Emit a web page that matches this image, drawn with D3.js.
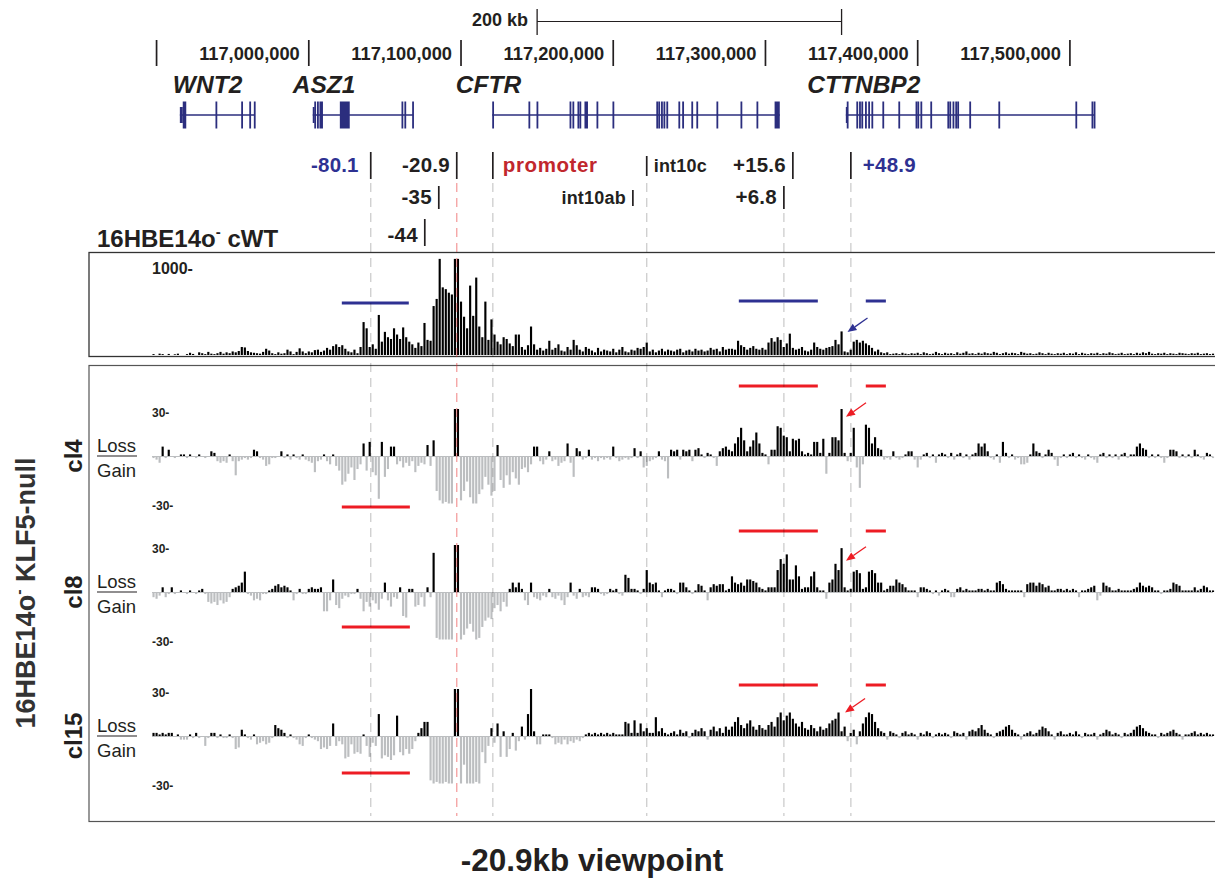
<!DOCTYPE html>
<html><head><meta charset="utf-8">
<script src="https://cdn.jsdelivr.net/npm/d3@7"></script>
<style>
body{margin:0;background:#fff}
svg text{font-family:"Liberation Sans",Arial,Helvetica,sans-serif}
</style></head>
<body><svg id="c" width="1215" height="882"></svg>
<script>
// ---------------- DATA ----------------
const binStartKb = 116897;   // first bin start (kb, chr7)
const binSizeKb = 2;         // bin size (kb)

// 16HBE14o- cWT 4C signal (reads per bin)
const cWT = [
10,0,15,10,0,12,0,8,15,0, 0,10,25,12,0,30,20,10,35,15,
10,20,35,15,30,20,40,30,45,90, 85,45,30,25,20,15,35,70,50,20,
10,30,15,20,60,40,10,35,75,40, 20,40,30,55,60,35,50,80,60,100,
120,90,110,70,40,30,60,20,90,370, 300,90,120,70,450,150,260,200,180,300,
230,180,310,200,150,120,80,140,100,360, 170,160,550,630,1080,760,740,700,680,1080,
1080,600,430,300,780,440,870,320,200,600, 170,400,230,150,120,200,180,130,100,230,
230,90,60,110,320,120,60,80,50,70, 160,60,80,120,50,40,90,60,170,110,
60,40,90,70,50,30,80,40,60,50, 40,70,30,60,90,40,30,60,50,80,
70,90,140,40,60,30,50,70,40,60, 50,40,60,70,30,50,60,40,70,50,
60,40,50,80,60,70,40,90,60,70, 70,60,160,110,90,60,80,100,70,60,
80,60,140,190,150,200,170,90,130,240, 80,60,70,90,50,40,60,140,90,70,
60,80,90,100,170,120,265,40,30,60, 150,170,140,160,130,110,80,40,60,30,
20,30,10,15,20,10,25,15,10,20, 15,25,10,30,20,10,15,35,20,10,
25,15,20,10,30,15,25,40,15,20, 10,25,15,30,20,15,35,25,10,20,
30,15,25,20,10,35,25,15,20,10, 15,30,20,10,25,15,10,20,15,25,
10,20,15,30,10,25,15,10,20,15, 25,10,20,15,30,20,10,15,25,10,
15,20,10,25,15,30,20,35,15,10, 20,15,25,10,20,15,10,25,20,15,
10,20,15,25,10,15,20,10,15
];

// KLF5-null clones: difference vs cWT (positive = Loss, negative = Gain)
const cl4 = [
-1,-2,-4,6,-1,4,0,-1,0,1, 1,-1,1,0,-1,1,0,-1,0,3,
2,-3,-4,-3,-4,1,-3,-12,-3,-2, -1,-2,-1,4,3,-1,-2,-6,-5,-1,
-1,0,3,-1,1,-2,1,-1,-2,1, -2,-3,-4,-10,-3,-2,1,-3,-5,1,
-6,-9,-18,-16,-11,-7,-15,-8,-5,8, -9,9,-10,-12,-27,9,-13,-8,6,6,
-5,-3,-7,-4,-6,-3,-10,-6,-4,-5, 7,-6,10,-22,-28,-30,-29,-30,-30,30,
30,-28,-22,-16,-26,-30,-30,-24,-21,-13, -18,-25,-22,7,-15,-20,-12,-18,-10,-14,
-18,-8,-7,-10,-5,6,6,-3,-5,-2, 3,-3,-2,-6,-4,-3,8,-4,-13,5,
3,-2,-1,4,-2,-1,-3,-1,-2,-1, -2,6,-1,-3,-2,-1,-2,-1,5,-1,
3,-7,-6,-3,-2,-1,3,-2,-3,-14, 4,3,4,-2,4,3,4,-3,4,5,
1,-1,2,1,-1,-6,3,5,6,4, 3,8,12,18,10,3,6,10,15,8,
2,1,-5,4,4,19,18,13,12,3, 11,10,11,3,1,2,1,9,9,2,
11,-11,2,12,12,10,30,2,-3,2, 18,-7,-20,-5,20,18,8,12,5,4,
-2,-1,-2,3,-1,-2,-1,1,3,3, -2,-7,-2,1,2,-1,1,-4,1,2,
1,-1,2,-2,1,2,-1,1,-2,1, 2,8,6,8,3,-1,-2,1,-4,9,
2,-1,1,-2,-1,-5,-5,-4,1,8, 3,2,-1,1,4,2,-2,-6,-1,1,
-1,1,2,-1,1,-1,-2,1,-1,-2, -4,1,2,-1,1,-1,1,-2,1,2,
-1,1,1,6,8,5,4,-1,1,-1, 1,-1,-4,-1,4,4,3,-1,1,-1,
1,-1,4,1,-1,-2,2,1,-1
];
const cl8 = [
-3,-4,-2,3,-3,-1,3,-1,0,1, 0,-1,1,0,-1,1,2,-1,-6,-7,
-6,-8,-5,-7,-6,-3,2,3,4,6, 13,-1,-2,-5,-4,-5,-1,-1,1,2,
4,5,3,4,3,1,-5,-1,2,-1, -1,2,3,2,2,3,-12,-12,-5,8,
-8,-10,-4,-2,-3,-1,-1,2,-4,-12, -6,-9,-5,-7,-11,-4,6,-5,-9,-3,
-4,3,-15,-16,2,2,-9,-8,-3,-9, 3,-3,25,-29,-30,-30,-30,-30,-30,30,
30,-30,-27,-23,-20,-25,-30,-29,-22,-18, -16,-17,-10,-8,-12,-6,-9,2,6,3,
6,2,-5,-8,6,-3,-4,-5,-2,-3, 2,-3,-4,-2,-5,-8,-3,6,-2,-4,
2,-3,-2,-3,3,3,2,-1,-2,-1, 2,1,2,-1,-2,11,9,2,2,1,
-1,2,14,6,5,6,1,-3,1,2, 2,1,-1,6,6,3,1,-1,1,5,
4,1,-5,3,5,4,5,5,1,2, 10,6,5,6,4,8,8,7,6,3,
2,1,3,3,3,14,21,18,24,8, 8,17,10,2,3,3,10,13,3,1,
1,-4,6,8,18,14,28,3,1,2, 13,14,12,2,3,13,14,12,6,6,
1,2,4,4,8,6,5,3,1,1, 1,-3,3,3,2,1,-1,1,-2,1,
2,1,-3,-3,2,3,1,2,1,1, 1,2,2,1,2,1,1,6,7,5,
2,1,1,1,1,1,-3,5,6,6, 4,6,5,3,4,1,1,2,2,1,
2,1,2,1,-3,1,1,2,3,4, -5,-2,6,4,3,1,1,2,1,1,
1,1,2,3,6,4,3,4,3,1, 1,-1,1,1,2,6,5,4,1,1,
1,1,3,1,2,4,3,1,1
];
const cl15 = [
2,2,1,2,1,2,2,0,1,-2, -2,-2,1,-1,2,-1,0,-6,-1,2,
2,-1,1,-1,-1,1,-1,-8,-7,4, 1,-1,-2,1,-5,-4,-3,-5,-4,-1,
7,5,4,2,-1,1,-1,-2,-5,-6, -1,1,-1,-2,-3,-8,-7,-8,-6,8,
-6,-3,-5,-14,-13,-5,-11,-10,-11,1, -6,-13,-4,-6,14,-14,-12,-13,-15,-12,
13,-10,-12,-8,-11,-8,-3,2,5,9, 9,-28,-30,-29,-30,-30,-29,-30,-30,30,
30,-30,-18,-30,-30,-30,-29,-30,-10,-17, -6,5,-4,8,-13,3,-13,-8,2,-9,
-3,6,-2,14,30,3,-5,-5,1,1, 1,-1,-5,-4,-5,-2,-5,-3,-4,-2,
-3,-1,1,2,1,2,1,2,1,2, 1,2,1,1,1,9,8,2,10,2,
8,3,5,2,2,12,3,5,2,1, 2,3,1,4,2,3,-1,2,4,3,
5,3,-2,4,6,3,5,2,6,4, 6,9,12,7,5,8,10,6,4,7,
5,4,7,9,6,12,15,10,13,15, 11,8,6,9,5,4,7,5,3,6,
4,5,8,10,11,15,3,6,-3,2, 4,-5,3,8,12,15,14,9,5,3,
2,-2,3,2,1,-1,2,3,1,2, 1,-2,2,1,3,2,-1,1,2,1,
2,1,-1,3,2,1,2,-2,3,4, 3,5,7,4,2,1,-1,2,3,4,
6,7,4,2,1,-2,1,2,3,1, 2,4,6,5,3,1,-2,2,3,1,
1,2,1,3,1,-1,2,1,1,2, -2,1,2,4,3,1,2,1,-1,2,
1,2,4,6,7,5,3,2,1,1, -1,2,1,2,3,4,2,1,-2,1,
1,2,3,1,2,1,2,1,1
];
const cloneNames = ["cl4","cl8","cl15"];

// coordinate ruler
const tickKb = [116900,117000,117100,117200,117300,117400,117500];
const tickLabels = ["","117,000,000","117,100,000","117,200,000","117,300,000","117,400,000","117,500,000"];
const scaleBarKb = [117150,117350];
const scaleBarLabel = "200 kb";

// genes: [start,end,kind] exons, kind 1 = coding, 0 = UTR
const geneNames = ["WNT2","ASZ1","CFTR","CTTNBP2"];
const geneLabelKb = [116910.7,116989.5,117096.6,117327.5];
const geneSpan = [[116915.3,116964.5],[117002.6,117068.6],[117120.5,117309.4],[117352.8,117516.4]];
const geneExons = [
 [[116915.3,116917.2,0],[116917.2,116919.5,1],[116938.7,116939.3,1],[116955.6,116956.2,1],[116960.9,116961.5,1],[116963.9,116964.5,1]],
 [[117002.6,117003.6,0],[117003.6,117004.6,1],[117005.4,117006.0,1],[117007.0,117009.3,1],[117020.4,117026.9,1],[117060.9,117061.5,1],[117062.8,117063.4,1],[117067.9,117068.6,1]],
 [[117120.5,117121.1,1],[117144.3,117144.9,1],[117149.6,117150.2,1],[117171.3,117171.9,1],[117173.2,117173.8,1],[117176.5,117177.1,1],[117177.8,117178.4,1],[117181.1,117183.4,1],[117189.0,117189.6,1],[117199.5,117200.1,1],[117228.3,117228.9,1],[117229.6,117230.2,1],[117231.4,117232.0,1],[117233.0,117233.6,1],[117234.9,117235.5,1],[117242.8,117243.6,1],[117245.3,117246.5,1],[117251.3,117251.9,1],[117254.6,117255.2,1],[117267.8,117268.4,1],[117283.6,117284.2,1],[117294.1,117294.7,1],[117306.0,117309.4,1]],
 [[117352.8,117353.4,0],[117353.4,117354.3,1],[117359.7,117360.3,1],[117361.5,117362.1,1],[117363.0,117363.6,1],[117365.4,117366.0,1],[117367.5,117368.1,1],[117369.6,117370.2,1],[117376.8,117377.4,1],[117387.3,117387.9,1],[117398.6,117399.2,1],[117399.8,117400.4,1],[117401.8,117402.4,1],[117408.3,117408.9,1],[117419.5,117420.1,1],[117420.8,117421.4,1],[117422.9,117423.5,1],[117424.7,117425.3,1],[117426.0,117426.6,1],[117433.9,117434.5,1],[117453.0,117453.6,1],[117503.6,117504.2,1],[117514.2,117514.8,1],[117515.6,117516.4,1]]
];

// regulatory elements (kb from CFTR TSS) and their genomic positions
const markerLabels = ["-80.1","-20.9","promoter","int10c","+15.6","+48.9","-35","int10ab","+6.8","-44"];
const markerKb     = [117040.7,117097.2,117120.9,117222.0,117318.0,117356.1,117085.4,117212.9,117312.1,117076.2];
const markerRow    = [0,0,0,0,0,0,1,1,1,2];
const markerSide   = ["L","L","R","R","L","R","L","L","L","L"];
const markerKind   = ["blue","black","red","small","black","blue","black","small","black","black"];
const markerGuide  = [1,2,1,1,0,1,0,0,1,0]; // 1 grey dashed guide, 2 red viewpoint guide

// highlighted regions [startKb,endKb]
const cwtRegions = [[117021.7,117065.7],[117282.5,117334.4],[117365.9,117379.1]];
const gainRegions = [[117021.7,117066.4]];
const lossRegions = [[117282.5,117334.4],[117365.9,117379.1]];

// ---------------- DRAWING ----------------
const svg = d3.select("#c");
const INK = "#231f20", NAVY = "#2b2e7e", BLUE = "#2e3192", RED = "#ed1c24", GREY = "#bcbec0";
const x = d3.scaleLinear().domain([116897,117594]).range([152,1213]);
const binX = i => x(binStartKb + i*binSizeKb);
const bw = binX(1) - binX(0);
const barW = bw - 0.9;

// scale bar
const sb = svg.append("g");
sb.append("line").attr("x1",x(scaleBarKb[0])).attr("x2",x(scaleBarKb[1])).attr("y1",21.5).attr("y2",21.5).attr("stroke",INK).attr("stroke-width",1.2);
scaleBarKb.forEach(k=>sb.append("line").attr("x1",x(k)).attr("x2",x(k)).attr("y1",9).attr("y2",35).attr("stroke",INK).attr("stroke-width",1.3));
sb.append("text").attr("x",x(scaleBarKb[0])-9).attr("y",25.5).attr("text-anchor","end")
  .attr("font-size",18).attr("font-weight","bold").attr("fill",INK).text(scaleBarLabel);

// ruler ticks
const rg = svg.append("g");
tickKb.forEach((t,i)=>{
  rg.append("line").attr("x1",x(t)).attr("x2",x(t)).attr("y1",40).attr("y2",66).attr("stroke",INK).attr("stroke-width",1.7);
  if (tickLabels[i]) rg.append("text").attr("x",x(t)-9).attr("y",60).attr("text-anchor","end")
     .attr("font-size",18.3).attr("font-weight","bold").attr("fill",INK).text(tickLabels[i]);
});

// genes
const gg = svg.append("g");
geneNames.forEach((g,gi)=>{
  gg.append("text").attr("x",x(geneLabelKb[gi])).attr("y",93).attr("font-size",24.5)
    .attr("font-weight","bold").attr("font-style","italic").attr("fill",INK).text(g);
  gg.append("line").attr("x1",x(geneSpan[gi][0])).attr("x2",x(geneSpan[gi][1])).attr("y1",115).attr("y2",115)
    .attr("stroke",NAVY).attr("stroke-width",1.5);
  geneExons[gi].forEach(e=>{
    const w = Math.max(1.8, x(e[1])-x(e[0]));
    const h = e[2] ? 27 : 16;
    gg.append("rect").attr("x",x(e[0])).attr("width",w).attr("y",115-h/2).attr("height",h).attr("fill",NAVY);
  });
});

// markers
const rowTick = [[152,179],[186,209],[219,246]];
const rowBase = [172,204,242];
const kindColor = {blue:BLUE, red:"#c1272d", black:INK, small:INK};
const mg = svg.append("g");
markerLabels.forEach((lab,i)=>{
  const mx = x(markerKb[i]);
  const r = markerRow[i];
  let t0 = rowTick[r][0], t1 = rowTick[r][1];
  if (markerKind[i]==="small") { t0 += 4; t1 -= 3; }
  mg.append("line").attr("x1",mx).attr("x2",mx).attr("y1",t0).attr("y2",t1).attr("stroke",INK).attr("stroke-width",1.7);
  const left = markerSide[i]==="L";
  const gap = markerKind[i]==="blue" ? 12 : (markerKind[i]==="red" ? 10 : 7);
  const small = markerKind[i]==="small";
  mg.append("text").attr("x", left ? mx-gap : mx+gap).attr("y", rowBase[r])
    .attr("text-anchor", left ? "end":"start")
    .attr("font-size", small ? 18 : 20.5).attr("font-weight","bold")
    .attr("letter-spacing", markerKind[i]==="red" ? 0.6 : 0.2)
    .attr("fill", kindColor[markerKind[i]]).text(lab);
});

// title cWT
const t1 = svg.append("text").attr("x",97).attr("y",247).attr("font-size",24).attr("font-weight","bold").attr("fill",INK);
t1.append("tspan").text("16HBE14o");
t1.append("tspan").attr("dy",-10).attr("font-size",15).text("-");
t1.append("tspan").attr("dy",10).text(" cWT");

// frames
svg.append("rect").attr("x",89).attr("y",252.5).attr("width",1140).attr("height",104).attr("fill","none").attr("stroke","#333").attr("stroke-width",1.3);
svg.append("rect").attr("x",89).attr("y",365.5).attr("width",1140).attr("height",456).attr("fill","none").attr("stroke","#555").attr("stroke-width",1.2);

// cWT bars
const yW = d3.scaleLinear().domain([0,1000]).range([355,266]);
svg.append("g").selectAll("rect").data(cWT).join("rect")
  .attr("x",(d,i)=>binX(i)+0.45).attr("width",barW)
  .attr("y",d=>yW(d)).attr("height",d=>yW(0)-yW(d)).attr("fill","#000");
svg.append("text").attr("x",152).attr("y",274).attr("font-size",16).attr("font-weight","bold").attr("fill",INK).text("1000-");

// clone tracks
const baseY = [456,592,736];
const lossOff = [-70,-61,-51];
const gainOff = [51,35,37];
const clones = [cl4,cl8,cl15];
clones.forEach((arr,ci)=>{
  const B = baseY[ci];
  const y = d3.scaleLinear().domain([-30,30]).range([B+47,B-47]);
  const g = svg.append("g");
  g.append("line").attr("x1",152).attr("x2",1213).attr("y1",B+0.5).attr("y2",B+0.5).attr("stroke",GREY).attr("stroke-width",1);
  g.selectAll("rect").data(arr).join("rect")
    .attr("x",(d,i)=>binX(i)+0.45).attr("width",barW)
    .attr("y",d=> d>0 ? y(d) : y(0)+0.5)
    .attr("height",d=> Math.abs(y(d)-y(0)))
    .attr("fill",d=> d>0 ? "#000" : GREY);
  g.append("text").attr("x",152).attr("y",y(30)+8).attr("font-size",12).attr("font-weight","bold").attr("fill",INK).text("30-");
  g.append("text").attr("x",152).attr("y",y(-30)+7).attr("font-size",12).attr("font-weight","bold").attr("fill",INK).text("-30-");
  // Loss / Gain
  g.append("text").attr("x",97).attr("y",B-4).attr("font-family","'Open Sans',sans-serif").attr("font-size",18.5).attr("fill",INK).text("Loss");
  g.append("line").attr("x1",97).attr("x2",137).attr("y1",B).attr("y2",B).attr("stroke",INK).attr("stroke-width",1.1);
  g.append("text").attr("x",97).attr("y",B+21).attr("font-family","'Open Sans',sans-serif").attr("font-size",18.5).attr("fill",INK).text("Gain");
  g.append("text").attr("transform",`translate(82,${B}) rotate(-90)`).attr("text-anchor","middle")
    .attr("font-size",24).attr("font-weight","bold").attr("fill",INK).text(cloneNames[ci]);
  lossRegions.forEach(r=>g.append("line").attr("x1",x(r[0])).attr("x2",x(r[1])).attr("y1",B+lossOff[ci]).attr("y2",B+lossOff[ci]).attr("stroke",RED).attr("stroke-width",3));
  gainRegions.forEach(r=>g.append("line").attr("x1",x(r[0])).attr("x2",x(r[1])).attr("y1",B+gainOff[ci]).attr("y2",B+gainOff[ci]).attr("stroke",RED).attr("stroke-width",3));
});

// cWT regions
[303,301,301].forEach((yy,i)=>{
  const r = cwtRegions[i];
  svg.append("line").attr("x1",x(r[0])).attr("x2",x(r[1])).attr("y1",yy).attr("y2",yy).attr("stroke",BLUE).attr("stroke-width",3);
});

// big rotated label
const bl = svg.append("text").attr("transform","translate(35,593) rotate(-90)").attr("text-anchor","middle")
  .attr("font-size",27).attr("font-weight","bold").attr("fill","#333");
bl.append("tspan").text("16HBE14o");
bl.append("tspan").attr("dy",-11).attr("font-size",16).text("-");
bl.append("tspan").attr("dy",11).text(" KLF5-null");

// dashed guide lines
markerLabels.forEach((lab,i)=>{
  if (!markerGuide[i]) return;
  const mx = x(markerKb[i]);
  const top = rowTick[markerRow[i]][1] + 4;
  svg.append("line").attr("x1",mx).attr("x2",mx).attr("y1",top).attr("y2",816)
    .attr("stroke", markerGuide[i]===2 ? "rgb(230,40,40)" : "#000")
    .attr("stroke-opacity", markerGuide[i]===2 ? 0.45 : 0.2)
    .attr("stroke-width",1.3).attr("stroke-dasharray","9,6");
});

// arrows (tip in data coords of each track)
function arrow(tx,ty,color){
  const dx=20, dy=-14, L=Math.hypot(dx,dy), ux=dx/L, uy=dy/L;
  const hl=9, hw=3.8;
  const bx=tx+ux*hl, by=ty+uy*hl;
  svg.append("line").attr("x1",bx).attr("y1",by).attr("x2",tx+dx).attr("y2",ty+dy).attr("stroke",color).attr("stroke-width",1.3);
  svg.append("path").attr("d",`M${tx},${ty}L${bx-uy*hw},${by+ux*hw}L${bx+uy*hw},${by-ux*hw}Z`).attr("fill",color);
}
arrow(x(117353.9), yW(258), BLUE);
const arrowKb = [117352.9,117352.9,117352.3], arrowVal = [25,20,15];
clones.forEach((a,ci)=>{
  const B = baseY[ci];
  const y = d3.scaleLinear().domain([-30,30]).range([B+47,B-47]);
  arrow(x(arrowKb[ci]), y(arrowVal[ci]), RED);
});

// bottom caption
svg.append("text").attr("x",592).attr("y",871).attr("text-anchor","middle").attr("font-size",31.5)
  .attr("font-weight","bold").attr("fill",INK).text("-20.9kb viewpoint");
</script>
</body></html>
